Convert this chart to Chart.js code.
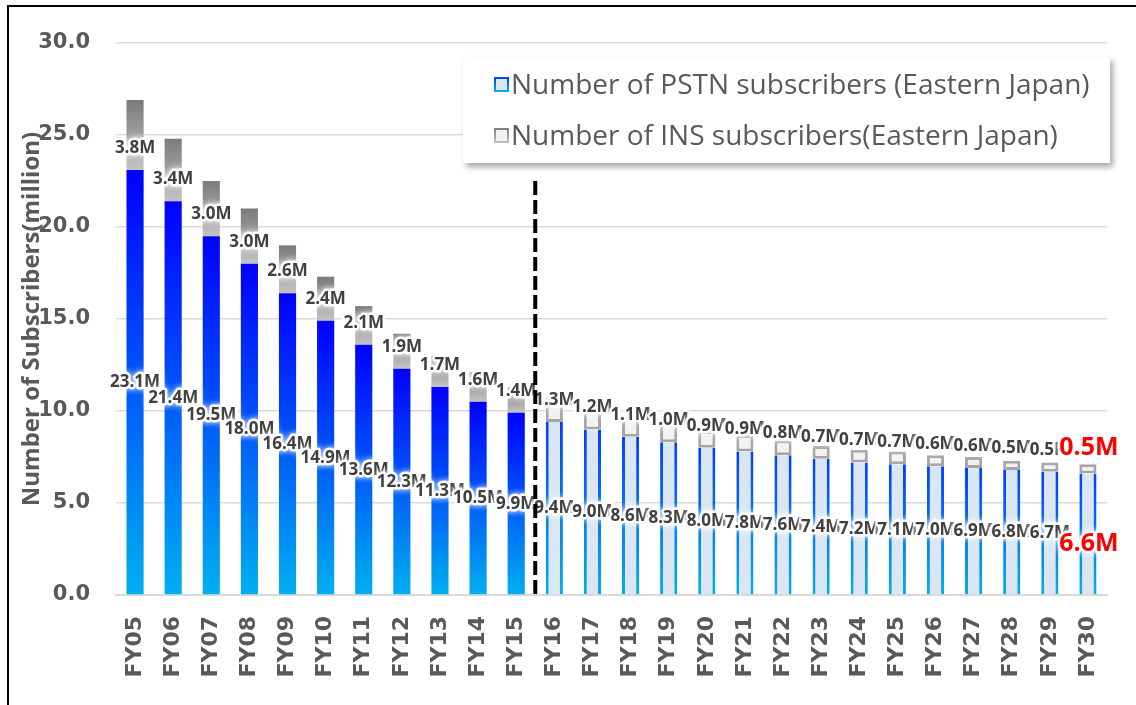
<!DOCTYPE html>
<html>
<head>
<meta charset="utf-8">
<script src="https://cdn.jsdelivr.net/npm/chart.js@4/dist/chart.umd.min.js"></script>
<style>
html,body{margin:0;padding:0;background:#fff;}
#wrap{position:relative;width:1136px;height:705px;overflow:hidden;background:#fff;}
#c{position:absolute;left:0;top:0;}
#frame{position:absolute;left:7px;top:5px;width:1200px;height:800px;border-left:2px solid #000;border-top:2px solid #000;pointer-events:none;}
#legend{position:absolute;left:463px;top:57px;width:647px;height:106px;background:#fff;box-shadow:3px 4px 6px rgba(0,0,0,0.35);font-family:'Open Sans',sans-serif;color:#595959;font-size:28px;}
.mk{position:absolute;width:11px;height:11px;border:2px solid;}
.tx{position:absolute;white-space:nowrap;line-height:36px;height:36px;}
</style>
</head>
<body>
<div id="wrap">
<canvas id="c" width="1136" height="705"></canvas>
<div id="frame"></div>
<div id="legend">
  <div class="mk" style="left:31px;top:20px;background:#dce6f2;border-image:linear-gradient(to bottom,#0040ff,#00b0f0) 1;"></div>
  <div class="tx" id="lg0" style="left:48px;top:8px;"></div>
  <div class="mk" style="left:31px;top:71px;background:#f2f2f2;border-image:linear-gradient(to bottom,#808080,#c0c0c0) 1;"></div>
  <div class="tx" id="lg1" style="left:48px;top:59px;"></div>
</div>
</div>
<script>
const categories = ['FY05','FY06','FY07','FY08','FY09','FY10','FY11','FY12','FY13','FY14','FY15','FY16','FY17','FY18','FY19','FY20','FY21','FY22','FY23','FY24','FY25','FY26','FY27','FY28','FY29','FY30'];
const pstnValues = [23.1,21.4,19.5,18.0,16.4,14.9,13.6,12.3,11.3,10.5,9.9,9.4,9.0,8.6,8.3,8.0,7.8,7.6,7.4,7.2,7.1,7.0,6.9,6.8,6.7,6.6];
const insValues = [3.8,3.4,3.0,3.0,2.6,2.4,2.1,1.9,1.7,1.6,1.4,1.3,1.2,1.1,1.0,0.9,0.9,0.8,0.7,0.7,0.7,0.6,0.6,0.5,0.5,0.5];
const yTickValues = [0,5,10,15,20,25,30];
const seriesNames = ['Number of PSTN subscribers (Eastern Japan)','Number of INS subscribers(Eastern Japan)'];
const firstForecast = 'FY16';
const dividerTop = 22.5;

document.getElementById('lg0').textContent = seriesNames[0];
document.getElementById('lg1').textContent = seriesNames[1];

const fIdx = categories.indexOf(firstForecast);

function vGrad(chart, v0, v1, c0, c1){
  const ys = chart.scales && chart.scales.y;
  if(!ys) return c1;
  const p0 = ys.getPixelForValue(v0), p1 = ys.getPixelForValue(v1);
  if(!isFinite(p0) || !isFinite(p1) || p0 === p1) return c1;
  const g = chart.ctx.createLinearGradient(0, p0, 0, p1);
  g.addColorStop(0, c0); g.addColorStop(1, c1);
  return g;
}

const labelPlugin = {
  id: 'valueLabels',
  afterDatasetsDraw(chart){
    const ctx = chart.ctx, ys = chart.scales.y;
    const m0 = chart.getDatasetMeta(0);
    const last = categories.length - 1;
    ctx.save();
    ctx.textAlign = 'center';
    ctx.textBaseline = 'middle';
    ctx.lineJoin = 'round';
    function draw(text, x, y, font, color){
      ctx.font = font;
      ctx.shadowColor = '#ffffff';
      ctx.shadowBlur = 6;
      ctx.strokeStyle = 'rgba(255,255,255,0.95)';
      ctx.lineWidth = 5;
      ctx.strokeText(text, x, y);
      ctx.shadowBlur = 0;
      ctx.fillStyle = color;
      ctx.fillText(text, x, y);
    }
    const normal = 'bold 17px "Open Sans"';
    const big = 'bold 25px "Open Sans"';
    categories.forEach((c, i) => {
      const x = m0.data[i].x;
      const isLast = i === last;
      const p = pstnValues[i], n = insValues[i];
      draw(p.toFixed(1) + 'M', x + (isLast ? 1 : 0), ys.getPixelForValue(p / 2) + (isLast ? 10 : 0), isLast ? big : normal, isLast ? '#ff0000' : '#404040');
      draw(n.toFixed(1) + 'M', x + (isLast ? 1 : 0), ys.getPixelForValue(p) - (isLast ? 26 : 22), isLast ? big : normal, isLast ? '#ff0000' : '#404040');
    });
    const xd = (m0.data[fIdx - 1].x + m0.data[fIdx].x) / 2;
    ctx.beginPath();
    ctx.setLineDash([14, 5]);
    ctx.lineWidth = 4;
    ctx.strokeStyle = '#000';
    ctx.moveTo(xd, ys.getPixelForValue(dividerTop));
    ctx.lineTo(xd, ys.getPixelForValue(0));
    ctx.stroke();
    ctx.restore();
  }
};

new Chart(document.getElementById('c'), {
  type: 'bar',
  data: {
    labels: categories,
    datasets: [
      {
        label: seriesNames[0],
        data: pstnValues,
        backgroundColor: (ctx) => {
          const i = ctx.dataIndex;
          if(i === undefined) return '#0000ff';
          return i < fIdx ? vGrad(ctx.chart, 0, pstnValues[i], '#00b0f0', '#0000ff') : '#dce6f2';
        },
        borderColor: (ctx) => {
          const i = ctx.dataIndex;
          if(i === undefined) return '#0000ff';
          return i < fIdx ? 'rgba(0,0,0,0)' : vGrad(ctx.chart, 0, pstnValues[i], '#00b0f0', '#0040ff');
        },
        borderWidth: (ctx) => (ctx.dataIndex < fIdx ? 0 : {left: 3, right: 3, top: 0, bottom: 0}),
        borderSkipped: false,
        stack: 's'
      },
      {
        label: seriesNames[1],
        data: insValues,
        backgroundColor: (ctx) => {
          const i = ctx.dataIndex;
          if(i === undefined) return '#808080';
          return i < fIdx ? vGrad(ctx.chart, pstnValues[i], pstnValues[i] + insValues[i], '#c4c4c4', '#7a7a7a') : '#f2f2f2';
        },
        borderColor: (ctx) => (ctx.dataIndex < fIdx ? 'rgba(0,0,0,0)' : '#a6a6a6'),
        borderWidth: (ctx) => (ctx.dataIndex < fIdx ? 0 : 3),
        borderSkipped: false,
        stack: 's'
      }
    ]
  },
  options: {
    responsive: false,
    animation: false,
    devicePixelRatio: 1,
    datasets: { bar: { barPercentage: 0.45, categoryPercentage: 1 } },
    layout: { padding: { left: 0, right: 29, top: 43, bottom: 0 } },
    plugins: { legend: { display: false }, tooltip: { enabled: false } },
    scales: {
      x: {
        stacked: true,
        grid: { display: false },
        border: { display: true, color: '#d9d9d9', width: 2 },
        ticks: {
          autoSkip: false, minRotation: 90, maxRotation: 90, padding: 13,
          color: '#595959', font: { family: 'DejaVu Sans', weight: 'bold', size: 22 }
        },
        afterFit(s){ s.height = 110; }
      },
      y: {
        stacked: true,
        min: yTickValues[0], max: yTickValues[yTickValues.length - 1],
        afterBuildTicks(s){ s.ticks = yTickValues.map(v => ({value: v})); },
        grid: { color: '#d9d9d9', lineWidth: 1.5, drawTicks: false },
        border: { display: false },
        ticks: {
          padding: 26, color: '#595959',
          font: { family: 'DejaVu Sans', weight: 'bold', size: 21 },
          callback: (v) => Number(v).toFixed(1)
        },
        title: {
          display: true, text: 'Number of Subscribers(million)', color: '#595959',
          font: { family: 'Open Sans', weight: 'bold', size: 24 },
          padding: { top: 18, bottom: 0 }
        },
        afterFit(s){ s.width = 116; }
      }
    }
  },
  plugins: [labelPlugin]
});
</script>
</body>
</html>
